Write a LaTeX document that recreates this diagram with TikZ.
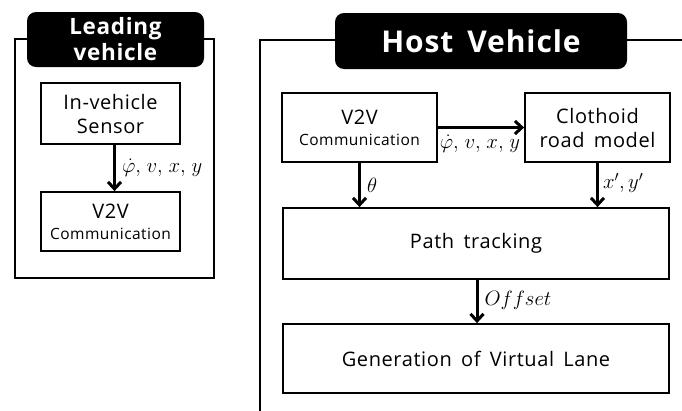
\documentclass[tikz,border=0pt]{standalone}
\usepackage{fontspec}
\setmainfont{Open Sans}[LetterSpace=3,WordSpace=1.6]
\usetikzlibrary{arrows.meta}
\newcommand{\commtext}{{\fontsize{15.5}{17}\selectfont Communication}}
\newcommand{\statevars}{$\dot{\varphi},\mkern2mu v,\mkern2mu x,\mkern2mu y$}
\begin{document}
\begin{tikzpicture}[x=1pt,y=-1pt,
  box/.style={draw=black,line width=1.8pt,fill=white,align=center,inner sep=0pt,
    font=\fontsize{20}{24}\selectfont},
  titlebox/.style={fill=black,rounded corners=9pt,text=white,align=center,inner sep=0pt},
  frameline/.style={line width=1.8pt},
  flow/.style={line width=3pt,-{Straight Barb[length=7pt,width=13pt,line width=3pt]}},
  lbl/.style={anchor=west,inner sep=1pt,xshift=5pt,font=\fontsize{22}{24}\selectfont},
]
\useasboundingbox (0,0) rectangle (682,410);

% Leading vehicle panel
\draw[frameline] (15,39) rectangle (214,278);
\node[titlebox,minimum width=177pt,minimum height=55pt,
  font=\bfseries\fontsize{22.5}{26}\selectfont] (lt) at (115.5,39.5) {Leading\\vehicle};
\node[box,minimum width=139pt,minimum height=61pt] (sens) at (110.5,113.5) {In-vehicle\\Sensor};
\node[box,minimum width=139pt,minimum height=59pt] (lv2v) at (110.5,221.5)
  {V2V\\[-3pt]\commtext};
\draw[flow] ([xshift=4pt]sens.south) -- ([xshift=4pt]lv2v.north)
  node[lbl,pos=0.5] (lsig) {\statevars};

% Host vehicle panel
\draw[frameline] (690,40) -- (260,40) -- (260,415);
\node[titlebox,minimum width=292pt,minimum height=56pt,
  font=\bfseries\fontsize{30}{34}\selectfont] (ht) at (481,41) {Host Vehicle};
\node[box,minimum width=155pt,minimum height=69pt] (hv2v) at (359.5,127.5)
  {V2V\\[-3pt]\commtext};
\node[box,minimum width=145pt,minimum height=69pt] (clo) at (597.5,127.5) {Clothoid\\road model};
\node[box,minimum width=386pt,minimum height=71pt] (path) at (476,243.5) {Path tracking};
\node[box,minimum width=386pt,minimum height=69pt] (gen) at (476,358.5) {Generation of Virtual Lane};

\draw[flow] (hv2v.east) -- (clo.west);
\node[inner sep=0pt,font=\fontsize{22}{24}\selectfont] (hsig) at (480,144) {\statevars};
\draw[flow] (hv2v.south) -- (hv2v.south |- path.north)
  node[lbl,pos=0.5] (th) {$\theta$};
\draw[flow] (clo.south) -- (clo.south |- path.north)
  node[lbl,pos=0.45,xshift=-2pt] (xy) {$x',y'$};
\draw[flow] ([xshift=1pt]path.south) -- ([xshift=1pt]gen.north)
  node[lbl,pos=0.47] (off) {$Offset$};
\end{tikzpicture}
\end{document}
